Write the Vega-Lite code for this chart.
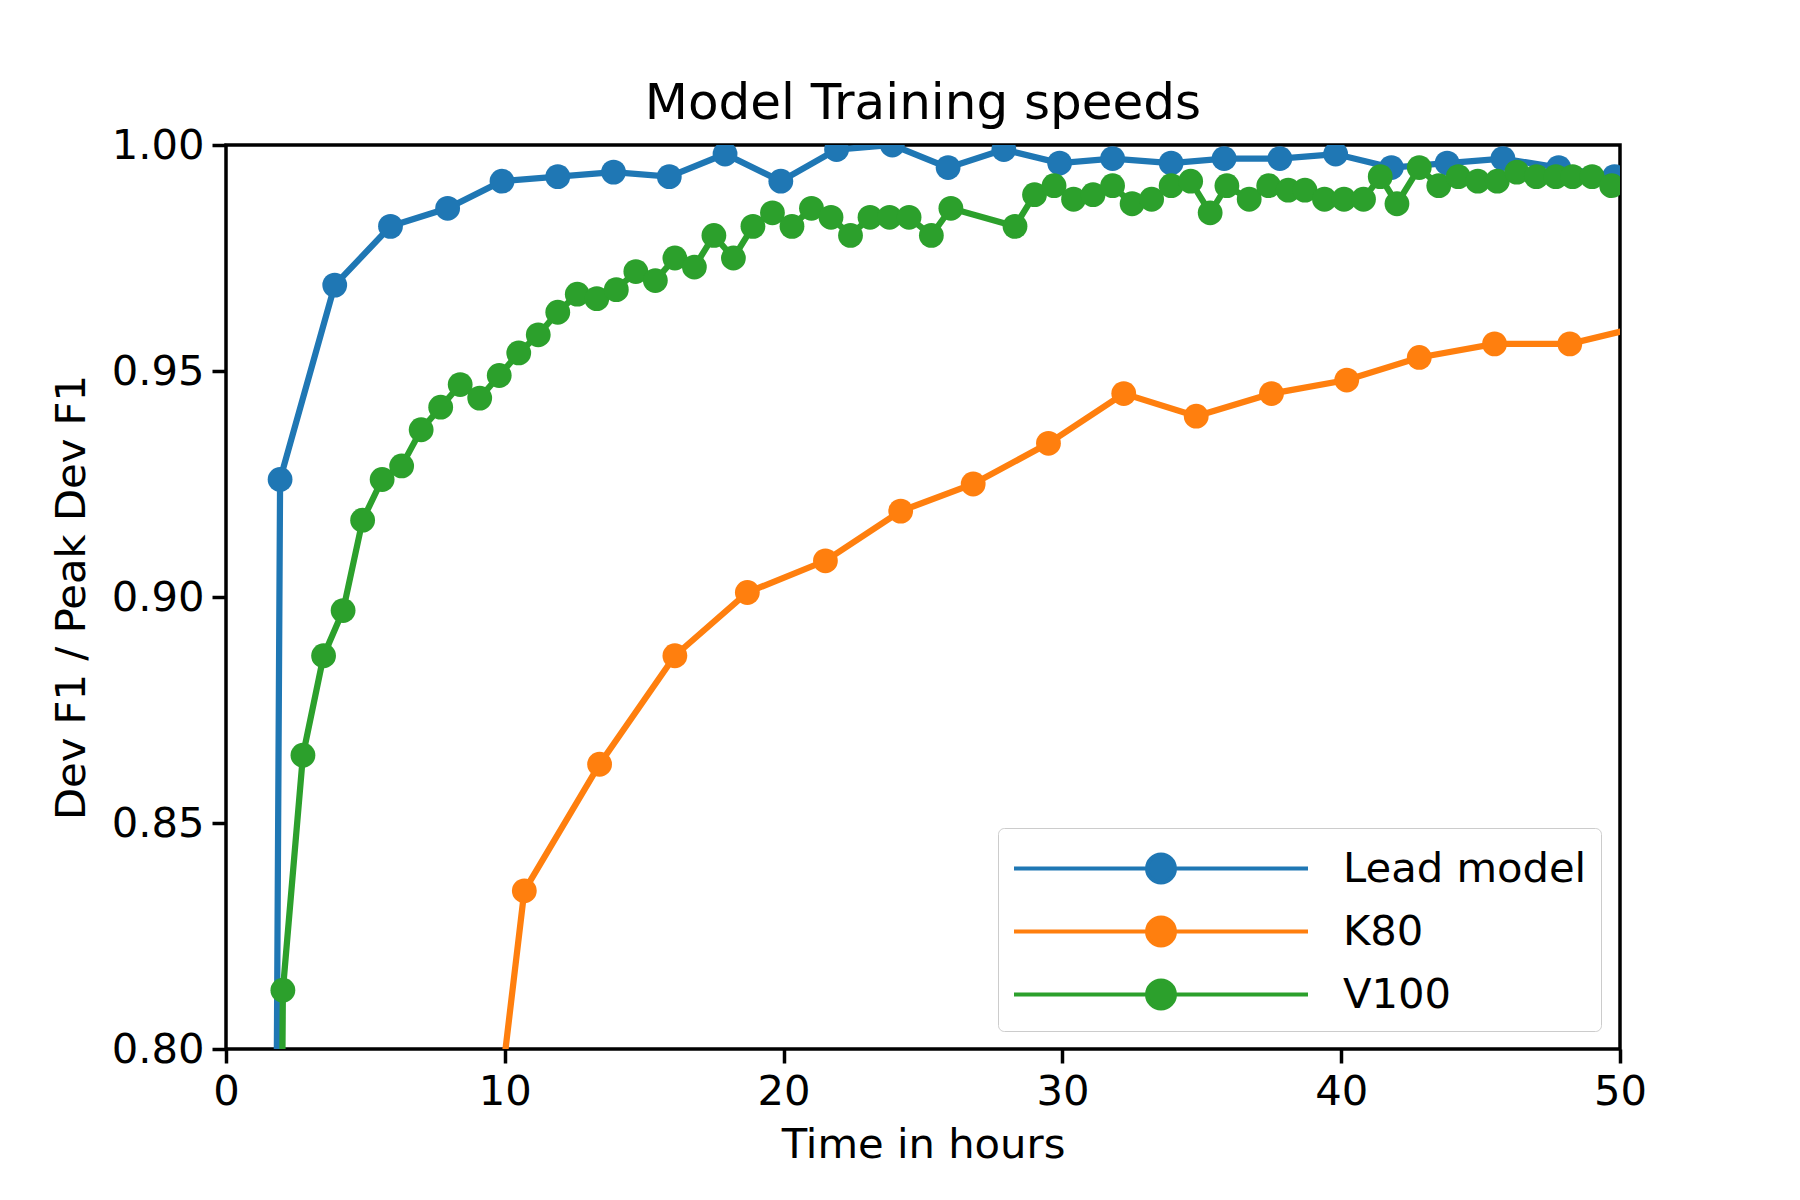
{
  "$schema": "https://vega.github.io/schema/vega-lite/v6.json",
  "autosize": "none",
  "padding": {"left": 226, "top": 145, "right": 180, "bottom": 151},
  "width": 1394,
  "height": 904,
  "background": "white",
  "title": {"text": "Model Training speeds", "font": "DejaVu Sans", "fontSize": 50, "fontWeight": "normal", "offset": -4},
  "data": {"values": [
    {"m": "Lead model", "t": 1.55, "v": 0.5},
    {"m": "Lead model", "t": 1.94, "v": 0.926},
    {"m": "Lead model", "t": 3.9, "v": 0.969},
    {"m": "Lead model", "t": 5.9, "v": 0.982},
    {"m": "Lead model", "t": 7.95, "v": 0.986},
    {"m": "Lead model", "t": 9.9, "v": 0.992},
    {"m": "Lead model", "t": 11.9, "v": 0.993},
    {"m": "Lead model", "t": 13.9, "v": 0.994},
    {"m": "Lead model", "t": 15.9, "v": 0.993},
    {"m": "Lead model", "t": 17.9, "v": 0.998},
    {"m": "Lead model", "t": 19.9, "v": 0.992},
    {"m": "Lead model", "t": 21.9, "v": 0.999},
    {"m": "Lead model", "t": 23.9, "v": 1.0},
    {"m": "Lead model", "t": 25.9, "v": 0.995},
    {"m": "Lead model", "t": 27.9, "v": 0.999},
    {"m": "Lead model", "t": 29.9, "v": 0.996},
    {"m": "Lead model", "t": 31.8, "v": 0.997},
    {"m": "Lead model", "t": 33.9, "v": 0.996},
    {"m": "Lead model", "t": 35.8, "v": 0.997},
    {"m": "Lead model", "t": 37.8, "v": 0.997},
    {"m": "Lead model", "t": 39.8, "v": 0.998},
    {"m": "Lead model", "t": 41.8, "v": 0.995},
    {"m": "Lead model", "t": 43.8, "v": 0.996},
    {"m": "Lead model", "t": 45.8, "v": 0.997},
    {"m": "Lead model", "t": 47.8, "v": 0.995},
    {"m": "Lead model", "t": 49.8, "v": 0.993},
    {"m": "K80", "t": 8.1, "v": 0.7},
    {"m": "K80", "t": 10.7, "v": 0.835},
    {"m": "K80", "t": 13.4, "v": 0.863},
    {"m": "K80", "t": 16.1, "v": 0.887},
    {"m": "K80", "t": 18.7, "v": 0.901},
    {"m": "K80", "t": 21.5, "v": 0.908},
    {"m": "K80", "t": 24.2, "v": 0.919},
    {"m": "K80", "t": 26.8, "v": 0.925},
    {"m": "K80", "t": 29.5, "v": 0.934},
    {"m": "K80", "t": 32.2, "v": 0.945},
    {"m": "K80", "t": 34.8, "v": 0.94},
    {"m": "K80", "t": 37.5, "v": 0.945},
    {"m": "K80", "t": 40.2, "v": 0.948},
    {"m": "K80", "t": 42.8, "v": 0.953},
    {"m": "K80", "t": 45.5, "v": 0.956},
    {"m": "K80", "t": 48.2, "v": 0.956},
    {"m": "K80", "t": 50.9, "v": 0.96},
    {"m": "V100", "t": 1.8, "v": 0.6},
    {"m": "V100", "t": 2.04, "v": 0.813},
    {"m": "V100", "t": 2.76, "v": 0.865},
    {"m": "V100", "t": 3.5, "v": 0.887},
    {"m": "V100", "t": 4.2, "v": 0.897},
    {"m": "V100", "t": 4.9, "v": 0.917},
    {"m": "V100", "t": 5.6, "v": 0.926},
    {"m": "V100", "t": 6.3, "v": 0.929},
    {"m": "V100", "t": 7.0, "v": 0.937},
    {"m": "V100", "t": 7.7, "v": 0.942},
    {"m": "V100", "t": 8.4, "v": 0.947},
    {"m": "V100", "t": 9.1, "v": 0.944},
    {"m": "V100", "t": 9.8, "v": 0.949},
    {"m": "V100", "t": 10.5, "v": 0.954},
    {"m": "V100", "t": 11.2, "v": 0.958},
    {"m": "V100", "t": 11.9, "v": 0.963},
    {"m": "V100", "t": 12.6, "v": 0.967},
    {"m": "V100", "t": 13.3, "v": 0.966},
    {"m": "V100", "t": 14.0, "v": 0.968},
    {"m": "V100", "t": 14.7, "v": 0.972},
    {"m": "V100", "t": 15.4, "v": 0.97},
    {"m": "V100", "t": 16.1, "v": 0.975},
    {"m": "V100", "t": 16.8, "v": 0.973},
    {"m": "V100", "t": 17.5, "v": 0.98},
    {"m": "V100", "t": 18.2, "v": 0.975},
    {"m": "V100", "t": 18.9, "v": 0.982},
    {"m": "V100", "t": 19.6, "v": 0.985},
    {"m": "V100", "t": 20.3, "v": 0.982},
    {"m": "V100", "t": 21.0, "v": 0.986},
    {"m": "V100", "t": 21.7, "v": 0.984},
    {"m": "V100", "t": 22.4, "v": 0.98},
    {"m": "V100", "t": 23.1, "v": 0.984},
    {"m": "V100", "t": 23.8, "v": 0.984},
    {"m": "V100", "t": 24.5, "v": 0.984},
    {"m": "V100", "t": 25.3, "v": 0.98},
    {"m": "V100", "t": 26.0, "v": 0.986},
    {"m": "V100", "t": 28.3, "v": 0.982},
    {"m": "V100", "t": 29.0, "v": 0.989},
    {"m": "V100", "t": 29.7, "v": 0.991},
    {"m": "V100", "t": 30.4, "v": 0.988},
    {"m": "V100", "t": 31.1, "v": 0.989},
    {"m": "V100", "t": 31.8, "v": 0.991},
    {"m": "V100", "t": 32.5, "v": 0.987},
    {"m": "V100", "t": 33.2, "v": 0.988},
    {"m": "V100", "t": 33.9, "v": 0.991},
    {"m": "V100", "t": 34.6, "v": 0.992},
    {"m": "V100", "t": 35.3, "v": 0.985},
    {"m": "V100", "t": 35.9, "v": 0.991},
    {"m": "V100", "t": 36.7, "v": 0.988},
    {"m": "V100", "t": 37.4, "v": 0.991},
    {"m": "V100", "t": 38.1, "v": 0.99},
    {"m": "V100", "t": 38.7, "v": 0.99},
    {"m": "V100", "t": 39.4, "v": 0.988},
    {"m": "V100", "t": 40.1, "v": 0.988},
    {"m": "V100", "t": 40.8, "v": 0.988},
    {"m": "V100", "t": 41.4, "v": 0.993},
    {"m": "V100", "t": 42.0, "v": 0.987},
    {"m": "V100", "t": 42.8, "v": 0.995},
    {"m": "V100", "t": 43.5, "v": 0.991},
    {"m": "V100", "t": 44.2, "v": 0.993},
    {"m": "V100", "t": 44.9, "v": 0.992},
    {"m": "V100", "t": 45.6, "v": 0.992},
    {"m": "V100", "t": 46.3, "v": 0.994},
    {"m": "V100", "t": 47.0, "v": 0.993},
    {"m": "V100", "t": 47.7, "v": 0.993},
    {"m": "V100", "t": 48.3, "v": 0.993},
    {"m": "V100", "t": 49.0, "v": 0.993},
    {"m": "V100", "t": 49.7, "v": 0.991}
  ]},
  "encoding": {
    "x": {"field": "t", "type": "quantitative", "title": "Time in hours",
      "scale": {"domain": [0, 50], "nice": false, "zero": false},
      "axis": {"values": [0, 10, 20, 30, 40, 50], "grid": false, "labelFlush": false}},
    "y": {"field": "v", "type": "quantitative", "title": "Dev F1 / Peak Dev F1",
      "scale": {"domain": [0.8, 1.0], "nice": false, "zero": false},
      "axis": {"values": [0.8, 0.85, 0.9, 0.95, 1.0], "format": ".2f", "grid": false, "labelFlush": false}},
    "color": {"field": "m", "type": "nominal", "title": null,
      "scale": {"domain": ["Lead model", "K80", "V100"], "range": ["#1f77b4", "#ff7f0e", "#2ca02c"]},
      "legend": {
        "orient": "none", "legendX": 772, "legendY": 683,
        "symbolType": "M -1 0 L 4.43 0 M 5.57 0 L 11 0 M 5.57 0 A 0.57 0.57 0 1 1 4.43 0 A 0.57 0.57 0 1 1 5.57 0",
        "symbolSize": 2401, "symbolStrokeWidth": 4, "symbolOpacity": 1,
        "labelFont": "DejaVu Sans", "labelFontSize": 41.7, "labelOffset": 278, "labelLimit": 400,
        "rowPadding": 14, "padding": 14, "strokeColor": "#cccccc", "fillColor": "white",
        "cornerRadius": 6, "labelColor": "black"
      }}
  },
  "layer": [
    {"mark": {"type": "line", "strokeWidth": 6.25, "clip": true}},
    {"mark": {"type": "circle", "size": 615, "opacity": 1, "clip": true}}
  ],
  "config": {
    "view": {"stroke": "black", "strokeWidth": 3.5},
    "font": "DejaVu Sans",
    "axis": {
      "labelFont": "DejaVu Sans", "labelFontSize": 41.7, "labelColor": "black",
      "titleFont": "DejaVu Sans", "titleFontSize": 41.7, "titleFontWeight": "normal", "titleColor": "black",
      "domain": false, "tickColor": "black", "tickSize": 14, "tickWidth": 3.5, "labelPadding": 8
    },
    "axisX": {"titlePadding": 12},
    "axisY": {"titlePadding": 18}
  }
}
